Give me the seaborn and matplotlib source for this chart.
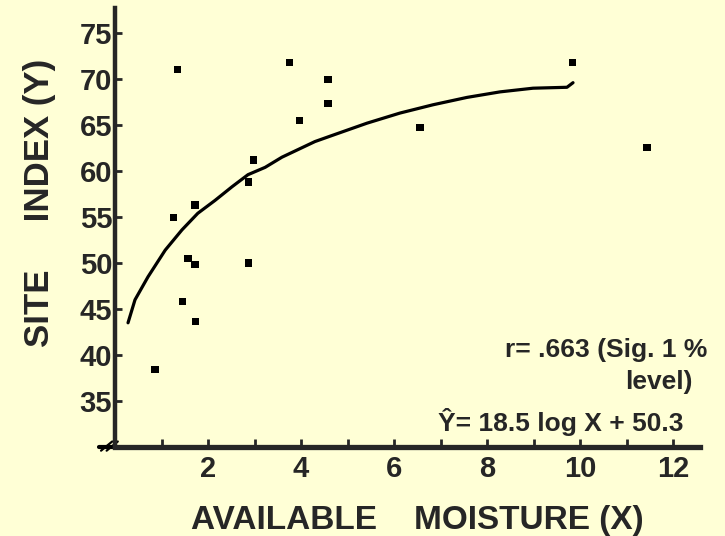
import numpy as np
import pandas as pd
import matplotlib
matplotlib.use("Agg")
import matplotlib.pyplot as plt
import seaborn as sns

# ---- data ----
moisture = [1.35, 3.76, 4.58, 4.58, 3.96, 2.97, 2.88, 1.25, 1.72, 1.57, 1.72, 2.88,
            1.46, 1.74, 0.86, 6.56, 9.83, 11.44]
site_index = [71.0, 71.8, 69.9, 67.3, 65.5, 61.2, 58.8, 54.9, 56.3, 50.5, 49.8, 50.0,
              45.8, 43.6, 38.4, 64.7, 71.8, 62.6]

curve_x = [0.28, 0.43, 0.71, 1.08, 1.44, 1.78, 2.15, 2.52, 2.86, 3.23, 3.59, 4.30,
           4.69, 5.42, 6.13, 6.84, 7.57, 8.28, 8.99, 9.72, 9.85]
curve_y = [43.5, 46.0, 48.5, 51.4, 53.6, 55.4, 56.8, 58.3, 59.6, 60.4, 61.5, 63.2,
           63.9, 65.2, 66.3, 67.2, 68.0, 68.6, 69.0, 69.1, 69.6]

x_major = [2, 4, 6, 8, 10, 12]
x_minor = [1, 3, 5, 7, 9, 11]
y_ticks = [35, 40, 45, 50, 55, 60, 65, 70, 75]

pts = pd.DataFrame({"x": moisture, "y": site_index})
crv = pd.DataFrame({"x": curve_x, "y": curve_y})

sns.set_theme(style="ticks")
plt.rcParams['font.family'] = ['Liberation Sans', 'DejaVu Sans']
plt.rcParams['font.weight'] = 'bold'

BG = "#FFFFD6"
W, H = 725, 536
fig = plt.figure(figsize=(W / 100, H / 100), dpi=100, facecolor=BG)
x0, x1 = 115, 700
ytop, ybot = 8, 447
ax = fig.add_axes([x0 / W, (H - ybot) / H, (x1 - x0) / W, (ybot - ytop) / H])
ax.set_facecolor(BG)

sns.lineplot(data=crv, x="x", y="y", ax=ax, color="black", linewidth=2.3,
             sort=False, estimator=None)
sns.scatterplot(data=pts, x="x", y="y", ax=ax, color="black", s=26,
                marker="s", edgecolor="none")

ax.set_xlim(0, (x1 - x0) / 46.5)
ax.set_ylim(30, 30 + (ybot - ytop) / 9.2)

for s in ["top", "right"]:
    ax.spines[s].set_visible(False)
ax.spines["left"].set_linewidth(3.2)
ax.spines["bottom"].set_linewidth(3.8)

ax.set_xticks(x_major)
ax.set_xticks(x_minor, minor=True)
ax.set_xticklabels([str(v) for v in x_major], fontsize=21, fontweight="bold")
ax.set_yticks(y_ticks)
ax.set_yticklabels([str(v) for v in y_ticks], fontsize=21, fontweight="bold")
ax.tick_params(axis="x", which="both", direction="in", length=6, width=2, pad=6)
ax.tick_params(axis="y", which="both", direction="in", length=5, width=2, pad=2)
ax.set_xlabel("")
ax.set_ylabel("")

# axis break marks near origin
for dx in (-0.18, -0.06):
    ax.plot([dx - 0.12, dx + 0.12], [29.6, 30.6], color="black", lw=1.6,
            clip_on=False)
ax.plot([-0.35, 0], [30, 30], color="black", lw=3, clip_on=False)

fig.text(417 / W, 1 - 520 / H, "AVAILABLE    MOISTURE (X)", ha="center",
         va="center", fontsize=24, fontweight="bold")
fig.text(40 / W, 1 - 203 / H, "SITE     INDEX (Y)", ha="center", va="center",
         rotation=90, fontsize=25, fontweight="bold")

fig.text(707 / W, 1 - 350 / H, "r= .663 (Sig. 1 %", ha="right", va="center",
         fontsize=19, fontweight="bold")
fig.text(693 / W, 1 - 382 / H, "level)", ha="right", va="center",
         fontsize=19, fontweight="bold")
fig.text(683 / W, 1 - 422 / H, "Ŷ= 18.5 log X + 50.3", ha="right", va="center",
         fontsize=19, fontweight="bold")

fig.savefig("out.png", dpi=100, facecolor=BG)
